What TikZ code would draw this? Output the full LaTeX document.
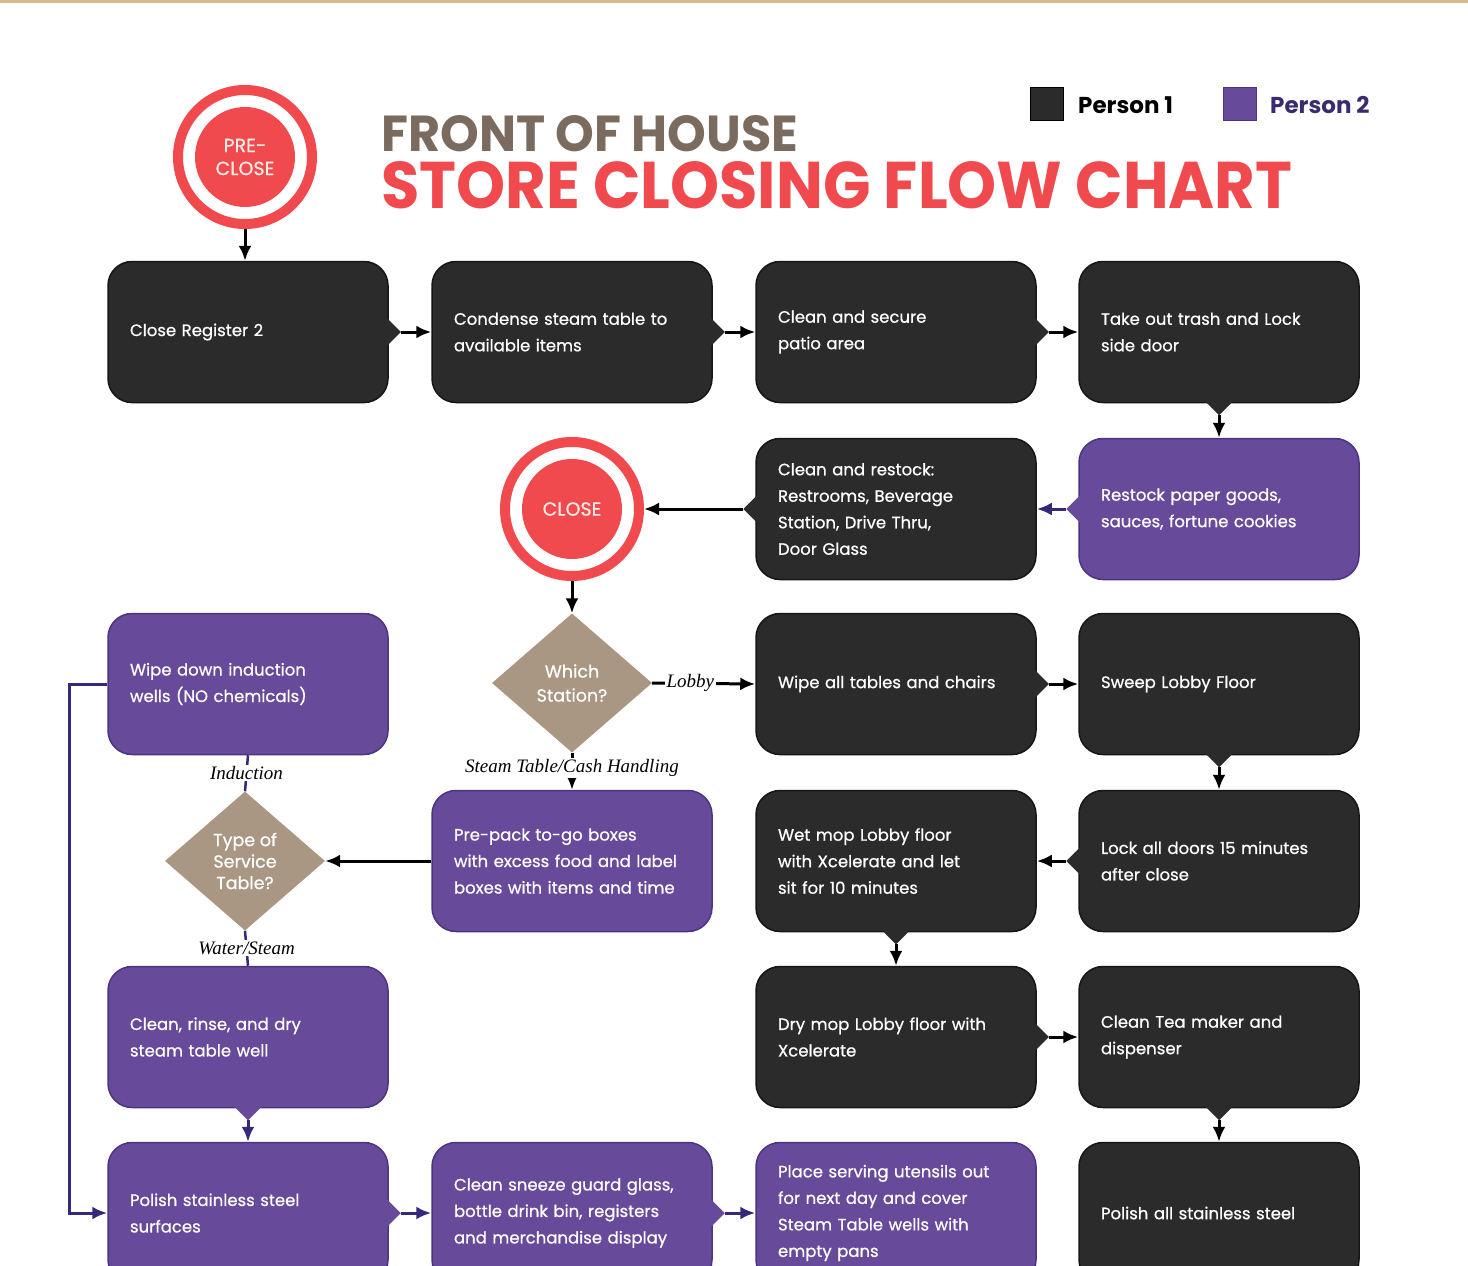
\documentclass[tikz,border=0pt]{standalone}
\usepackage{graphicx}
\usepackage{fontspec}
\setmainfont{Poppins}
\newfontfamily\boxfont{Poppins}[FakeBold=0.7]
\newfontfamily\lblfont{Liberation Serif}
\usetikzlibrary{shapes.geometric,arrows.meta}
\definecolor{redc}{HTML}{F04A4E}
\definecolor{titlebrown}{HTML}{7B6B5F}
\definecolor{darkbox}{HTML}{2B2B2B}
\definecolor{darkline}{HTML}{161616}
\definecolor{purp}{HTML}{684A9A}
\definecolor{purpline}{HTML}{4A3584}
\definecolor{navy}{HTML}{34297A}
\definecolor{tanc}{HTML}{A99683}
\definecolor{ptwo}{HTML}{3A2A6E}
\definecolor{cream}{HTML}{FDEDE6}
\definecolor{topline}{HTML}{D8B98A}
\newcommand\mytabR[2]{\fill[#2] (#1.east) ++(-2,-14) -- ++(14,14) -- ++(-14,14) -- cycle;}
\newcommand\mytabL[2]{\fill[#2] (#1.west) ++(2,-14) -- ++(-14,14) -- ++(14,14) -- cycle;}
\newcommand\mytabD[2]{\fill[#2] (#1.south) ++(-14,-2) -- ++(14,14) -- ++(14,-14) -- cycle;}
\begin{document}
\begin{tikzpicture}[x=1pt,y=-1pt,
  box/.style={rounded corners=24pt, minimum width=280pt, minimum height=141pt,
    text width=236pt, inner xsep=22pt, inner ysep=0pt, align=left,
    font=\boxfont\fontsize{16.5}{26.5}\selectfont, text=white, line width=1.5pt},
  pone/.style={box, fill=darkbox, draw=darkline},
  ptwo/.style={box, fill=purp, draw=purpline},
  ring/.style={circle, draw=redc, line width=10pt, minimum size=134pt, inner sep=0pt},
  disc/.style={circle, fill=redc, minimum size=100pt, inner sep=0pt, text=cream,
    align=center, font=\boxfont\fontsize{19}{23}\selectfont},
  decide/.style={diamond, fill=tanc, inner sep=0pt, minimum width=160pt,
    minimum height=139pt, text=white, align=center},
  arr/.style={line width=3pt, draw=black, -{Latex[length=15pt,width=13pt]}},
  narr/.style={line width=3pt, draw=navy, -{Latex[length=15pt,width=13pt]}},
  nline/.style={line width=2.5pt, draw=navy},
  lbl/.style={fill=white, inner sep=1.5pt, font=\lblfont\itshape\fontsize{19}{20}\selectfont, text=black}
]
\useasboundingbox (0,0) rectangle (1468,1266);
\clip (0,0) rectangle (1468,1266);
\fill[white] (0,0) rectangle (1468,1266);
\fill[topline] (0,0) rectangle (1468,2.5);

% title
\node[anchor=south west, inner sep=0pt, text=titlebrown] (t1) at (381,152)
  {\resizebox{417pt}{36pt}{\bfseries FRONT OF HOUSE}};
\node[anchor=south west, inner sep=0pt, text=redc] (t2) at (381,209)
  {\resizebox{911pt}{47pt}{\bfseries STORE CLOSING FLOW CHART}};

% legend
\node[draw=black, fill=darkbox, line width=1pt, minimum size=33pt, inner sep=0pt] (lg1) at (1046.5,104) {};
\node[anchor=base west, inner sep=0pt, font=\bfseries\fontsize{23}{23}\selectfont, text=black] (lg1t) at (1078,113) {Person 1};
\node[draw=purpline, fill=purp, line width=1pt, minimum size=33pt, inner sep=0pt] (lg2) at (1240,104) {};
\node[anchor=base west, inner sep=0pt, font=\bfseries\fontsize{23}{23}\selectfont, text=ptwo] (lg2t) at (1270,113) {Person 2};

% circles
\node[ring] (preR) at (245,157) {};
\node[disc] (pre) at (245,157) {PRE-\\CLOSE};
\node[ring] (closeR) at (572,509) {};
\node[disc] (close) at (572,509) {CLOSE};

% boxes
\node[pone] (a1) at (248,332) {Close Register 2};
\node[pone] (a2) at (572,332) {Condense steam table to\\available items};
\node[pone] (a3) at (896,332) {Clean and secure\\patio area};
\node[pone] (a4) at (1219,332) {Take out trash and Lock\\side door};
\node[ptwo] (b4) at (1219,509) {Restock paper goods,\\sauces, fortune cookies};
\node[pone] (b3) at (896,509) {Clean and restock:\\Restrooms, Beverage\\Station, Drive Thru,\\Door Glass};
\node[ptwo] (c1) at (248,684) {Wipe down induction\\wells (NO chemicals)};
\node[pone] (c3) at (896,684) {Wipe all tables and chairs};
\node[pone] (c4) at (1219,684) {Sweep Lobby Floor};
\node[ptwo] (d2) at (572,861) {Pre-pack to-go boxes\\with excess food and label\\boxes with items and time};
\node[pone] (d3) at (896,861) {Wet mop Lobby floor\\with Xcelerate and let\\sit for 10 minutes};
\node[pone] (d4) at (1219,861) {Lock all doors 15 minutes\\after close};
\node[ptwo] (e1) at (248,1037) {Clean, rinse, and dry\\steam table well};
\node[pone] (e3) at (896,1037) {Dry mop Lobby floor with\\Xcelerate};
\node[pone] (e4) at (1219,1037) {Clean Tea maker and\\dispenser};
\node[ptwo] (f1) at (248,1213) {Polish stainless steel\\surfaces};
\node[ptwo] (f2) at (572,1213) {Clean sneeze guard glass,\\bottle drink bin, registers\\and merchandise display};
\node[ptwo] (f3) at (896,1213) {Place serving utensils out\\for next day and cover\\Steam Table wells with\\empty pans};
\node[pone] (f4) at (1219,1213) {Polish all stainless steel};

% diamonds
\node[decide, font=\boxfont\fontsize{17.5}{24}\selectfont] (ws) at (572,683) {Which\\Station?};
\node[decide, font=\boxfont\fontsize{17.5}{21.5}\selectfont] (ts) at (245,861) {Type of\\Service\\Table?};

% tabs
\mytabR{a1}{darkbox}\mytabR{a2}{darkbox}\mytabR{a3}{darkbox}
\mytabR{c3}{darkbox}\mytabR{e3}{darkbox}
\mytabR{f1}{purp}\mytabR{f2}{purp}
\mytabD{a4}{darkbox}\mytabD{c4}{darkbox}\mytabD{d3}{darkbox}\mytabD{e4}{darkbox}
\mytabD{e1}{purp}
\mytabL{b3}{darkbox}\mytabL{d4}{darkbox}\mytabL{b4}{purp}

% connectors
\draw[arr] (preR.south) -- (preR.south |- a1.north);
\draw[arr, shorten <=12pt] (a1.east) -- (a2.west);
\draw[arr, shorten <=12pt] (a2.east) -- (a3.west);
\draw[arr, shorten <=12pt] (a3.east) -- (a4.west);
\draw[arr, shorten <=12pt] (a4.south) -- (b4.north);
\draw[narr, shorten <=12pt] (b4.west) -- (b3.east);
\draw[arr, shorten <=12pt] (b3.west) -- (closeR.east);
\draw[arr] (closeR.south) -- (ws.north);
\draw[arr] (ws.east) -- node[lbl, pos=0.37] {Lobby} (c3.west);
\draw[arr] (ws.south) -- node[lbl, pos=0.42] {Steam Table/Cash Handling} (d2.north);
\draw[arr, shorten <=12pt] (c3.east) -- (c4.west);
\draw[arr, shorten <=12pt] (c4.south) -- (d4.north);
\draw[arr, shorten <=12pt] (d4.west) -- (d3.east);
\draw[arr, shorten <=12pt] (d3.south) -- (e3.north);
\draw[arr, shorten <=12pt] (e3.east) -- (e4.west);
\draw[arr, shorten <=12pt] (e4.south) -- (f4.north);
\draw[arr] (d2.west) -- (ts.east);
\draw[nline] (ts.north) -- node[lbl] {Induction} (c1.south);
\draw[nline] (ts.south) -- node[lbl] {Water/Steam} (e1.north);
\draw[narr, shorten <=12pt] (e1.south) -- (f1.north);
\draw[narr] (c1.west) -- ++(-38,0) |- (f1.west);
\draw[narr, shorten <=12pt] (f1.east) -- (f2.west);
\draw[narr, shorten <=12pt] (f2.east) -- (f3.west);
\end{tikzpicture}
\end{document}
